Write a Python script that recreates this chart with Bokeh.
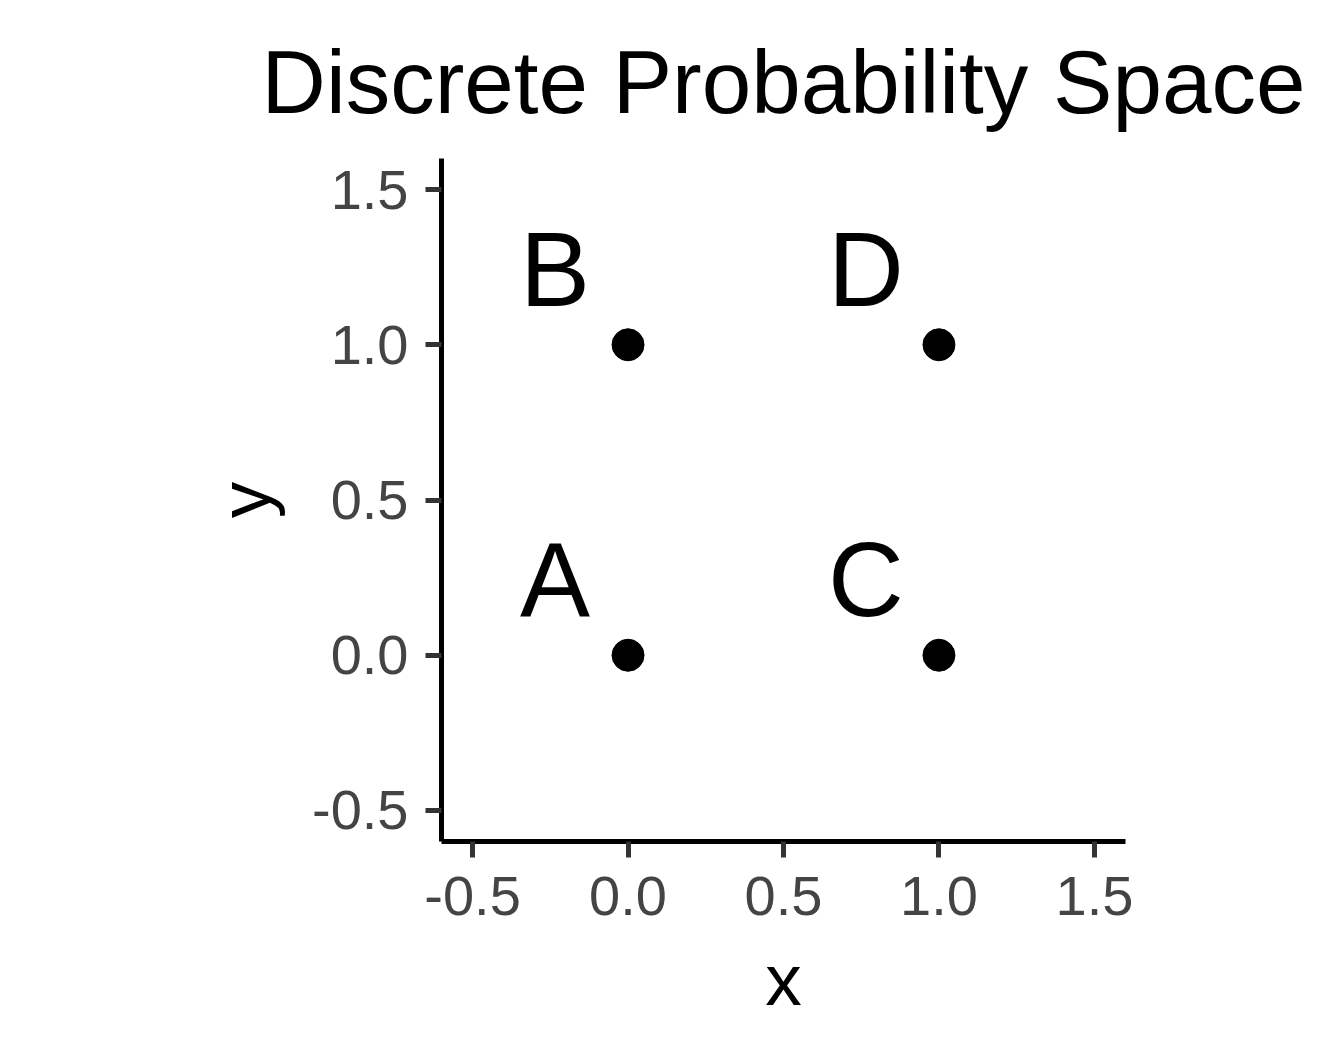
from bokeh.plotting import figure
from bokeh.models import ColumnDataSource, FixedTicker, PrintfTickFormatter, Range1d
from bokeh.core.properties import value
from bokeh.embed import file_html
from bokeh.resources import INLINE

# Four outcomes of the discrete probability space
outcomes = ["A", "B", "C", "D"]
xs = [0, 0, 1, 1]
ys = [0, 1, 0, 1]

# Label placement relative to each point (data units)
label_dx = -0.235
label_dy = 0.244

tick_values = [-0.5, 0.0, 0.5, 1.0, 1.5]

FONT = "Liberation Sans"

src = ColumnDataSource(dict(
    x=xs, y=ys, label=outcomes,
    lx=[v + label_dx for v in xs],
    ly=[v + label_dy for v in ys],
))

p = figure(
    width=1344, height=1056,
    x_range=Range1d(-0.6, 1.6), y_range=Range1d(-0.6, 1.6),
    output_backend="svg", toolbar_location=None,
    min_border_left=441, min_border_right=219,
    min_border_top=158, min_border_bottom=215,
    title="Discrete Probability Space",
)

p.title.text_font = FONT
p.title.text_font_size = "89px"
p.title.text_font_style = "normal"
p.title.align = "center"
p.title.text_color = "black"
p.title.standoff = 54

p.outline_line_color = None
p.grid.visible = False
p.background_fill_color = "white"
p.border_fill_color = "white"

for ax in (p.xaxis[0], p.yaxis[0]):
    ax.ticker = FixedTicker(ticks=tick_values)
    ax.formatter = PrintfTickFormatter(format="%.1f")
    ax.axis_line_width = 5
    ax.axis_line_color = "black"
    ax.major_tick_line_width = 5
    ax.major_tick_line_color = "#333333"
    ax.major_tick_out = 16
    ax.major_tick_in = 0
    ax.minor_tick_line_color = None
    ax.major_label_text_font = FONT
    ax.major_label_text_font_size = "56px"
    ax.major_label_text_color = "#444444"
    ax.axis_label_text_font = FONT
    ax.axis_label_text_font_size = "73px"
    ax.axis_label_text_font_style = "normal"
    ax.axis_label_text_color = "black"

p.xaxis.axis_label = "x"
p.yaxis.axis_label = "y"
p.xaxis.major_label_standoff = 19
p.yaxis.major_label_standoff = 17
p.xaxis.axis_label_standoff = 21
p.yaxis.axis_label_standoff = 24

p.scatter("x", "y", source=src, size=32, color="black")

p.text("lx", "ly", text="label", source=src,
       text_font=value(FONT), text_font_size="105px",
       text_align="center", text_baseline="alphabetic", text_color="black")

open("out.html", "w").write(file_html(p, INLINE))
